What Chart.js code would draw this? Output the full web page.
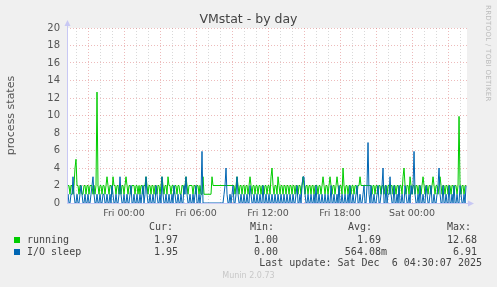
<!DOCTYPE html>
<html lang="en">
<head>
  <meta charset="UTF-8">
  <title>VMstat - by day</title>
  <script src="https://cdn.jsdelivr.net/npm/chart.js"></script>
  <style>
    body {
      margin: 0;
      background-color: #f0f0f0;
      font-family: "DejaVu Sans", sans-serif;
    }
    #wrap {
      position: relative;
      width: 497px;
      height: 287px;
      overflow: hidden;
    }
    #vmChart {
      position: absolute;
      left: 0;
      top: 0;
    }
    .txt {
      position: absolute;
      white-space: pre;
      color: #444;
      font-family: "DejaVu Sans Mono", monospace;
      font-size: 10px;
      line-height: 12px;
    }
    .num { text-align: right; }
    .swatch {
      position: absolute;
      width: 6px;
      height: 6px;
    }
    #title {
      position: absolute;
      left: 0;
      top: 11px;
      width: 497px;
      text-align: center;
      font-size: 12.5px;
      color: #444;
    }
    #rrd {
      position: absolute;
      left: 484px;
      top: 5px;
      writing-mode: vertical-rl;
      font-size: 7px;
      color: #bbb;
      letter-spacing: 0.3px;
    }
    #munin {
      position: absolute;
      left: 0;
      width: 497px;
      text-align: center;
      top: 271px;
      font-size: 8px;
      color: #c8c8c8;
    }
  </style>
</head>
<body>
  <div id="wrap">
    <canvas id="vmChart" width="497" height="287"></canvas>
    <div id="title">VMstat - by day</div>
    <div id="rrd">RRDTOOL / TOBI OETIKER</div>
    <div id="legend"></div>
    <div class="txt" style="right:15px; top:257px;">Last update: Sat Dec  6 04:30:07 2025</div>
    <div id="munin">Munin 2.0.73</div>
  </div>

  <script>
    // time axis: hours relative to Fri 00:00, one sample every 5 minutes
    const startHour = -4.75;
    const endHour = 28.58;
    const stepHours = 1 / 12;
    const labelHours = [0, 6, 12, 18, 24];
    const dayLabels = ["Fri 00:00", "Fri 06:00", "Fri 12:00", "Fri 18:00", "Sat 00:00"];

    const seriesNames = ["running", "I/O sleep"];
    const seriesColors = ["#00cc00", "#0066b3"];

    const running = [
      1, 2, 2, 1, 2, 2, 1, 2, 4, 5, 2, 2, 1, 2, 2, 1, 1, 2, 2, 1,
      2, 2, 1, 2, 2, 2, 1, 2, 1, 2, 12.68, 2, 1, 2, 2, 1, 2, 2, 1, 2,
      3, 2, 1, 2, 2, 1, 3, 2, 2, 1, 2, 2, 1, 2, 1, 2, 2, 1, 2, 3,
      2, 1, 2, 2, 1, 2, 2, 2, 1, 2, 2, 1, 2, 1, 2, 2, 1, 2, 2, 3,
      2, 1, 2, 2, 1, 2, 2, 1, 2, 2, 1, 2, 2, 1, 2, 3, 2, 1, 2, 2,
      1, 3, 2, 2, 1, 2, 2, 1, 2, 2, 1, 2, 2, 1, 1, 2, 2, 1, 2, 3,
      2, 1, 2, 2, 2, 2, 1, 2, 2, 1, 2, 2, 1, 2, 1, 1, 3, 1, 1, 1,
      1, 1, 1, 1, 1, 3, 2, 2, 2, 2, 2, 2, 2, 2, 2, 2, 2, 2, 2, 2,
      2, 2, 2, 2, 2, 2, 2, 2, 1, 2, 3, 2, 1, 2, 2, 1, 2, 2, 1, 2,
      2, 1, 2, 3, 2, 1, 2, 2, 1, 2, 2, 1, 2, 2, 1, 2, 2, 1, 2, 2,
      1, 2, 2, 1, 3, 4, 2, 1, 2, 2, 1, 3, 2, 1, 2, 2, 1, 2, 2, 1,
      2, 2, 1, 2, 2, 1, 2, 2, 1, 2, 2, 1, 2, 2, 1, 2, 3, 2, 1, 2,
      2, 1, 2, 2, 1, 2, 2, 1, 2, 2, 2, 1, 2, 2, 1, 2, 3, 2, 1, 2,
      2, 1, 2, 3, 2, 1, 2, 2, 1, 2, 3, 2, 1, 2, 2, 1, 4, 2, 1, 2,
      2, 1, 2, 2, 1, 2, 2, 1, 2, 2, 1, 2, 2, 3, 2, 2, 2, 2, 2, 2,
      2, 2, 2, 2, 2, 1, 2, 2, 1, 2, 2, 1, 2, 2, 1, 2, 2, 1, 2, 2,
      1, 2, 2, 1, 2, 2, 1, 2, 2, 1, 2, 2, 1, 2, 2, 1, 3, 4, 2, 1,
      2, 2, 1, 3, 2, 1, 2, 2, 1, 2, 2, 1, 2, 2, 1, 2, 3, 2, 1, 2,
      2, 1, 2, 2, 1, 2, 3, 2, 1, 2, 2, 1, 2, 3, 2, 1, 2, 2, 1, 2,
      2, 1, 2, 2, 1, 2, 2, 1, 2, 2, 1, 2, 9.9, 2, 1, 2, 2, 1, 2, 1.97
    ];

    const ioSleep = [
      0, 1, 0, 0, 1, 1, 3, 1, 0, 0, 1, 0, 0, 1, 2, 1, 0, 0, 1, 0,
      0, 1, 0, 0, 1, 2, 3, 1, 0, 0, 1, 0, 0, 1, 0, 0, 1, 1, 0, 0,
      1, 0, 0, 1, 0, 2, 1, 0, 0, 1, 0, 0, 1, 3, 1, 0, 0, 1, 0, 0,
      1, 0, 0, 1, 2, 0, 0, 1, 0, 0, 1, 0, 0, 1, 0, 1, 2, 0, 1, 3,
      1, 0, 0, 1, 0, 0, 1, 0, 0, 2, 1, 0, 0, 1, 0, 3, 1, 0, 0, 1,
      0, 0, 1, 0, 0, 1, 0, 2, 1, 0, 0, 1, 0, 0, 1, 0, 0, 2, 1, 3,
      1, 0, 0, 1, 0, 0, 1, 0, 1, 2, 0, 0, 1, 0, 1, 5.9, 0, 0, 0, 0,
      0, 0, 0, 0, 0, 0, 0, 0, 0, 0, 0, 0, 0, 0, 0, 0, 0, 1, 2, 4,
      1, 0, 0, 1, 0, 1, 2, 0, 0, 1, 3, 1, 0, 0, 1, 0, 0, 1, 0, 0,
      1, 0, 0, 2, 1, 0, 0, 1, 0, 0, 1, 0, 0, 1, 0, 0, 2, 0, 0, 1,
      0, 0, 1, 0, 0, 1, 0, 0, 1, 0, 0, 1, 0, 0, 1, 0, 0, 1, 0, 0,
      1, 0, 0, 1, 0, 0, 1, 0, 0, 1, 2, 0, 0, 1, 0, 2, 3, 3, 1, 0,
      0, 1, 0, 0, 1, 0, 0, 1, 0, 2, 0, 0, 1, 0, 0, 1, 0, 0, 1, 0,
      0, 1, 0, 0, 2, 0, 0, 1, 0, 0, 1, 0, 2, 0, 0, 1, 0, 0, 1, 0,
      0, 1, 0, 2, 0, 0, 1, 0, 0, 1, 2, 0, 0, 1, 0, 0, 1, 2, 0, 0,
      2, 6.91, 1, 0, 2, 0, 0, 1, 0, 0, 1, 2, 0, 0, 1, 2, 4, 0, 0, 2,
      0, 1, 1, 3, 1, 0, 0, 2, 0, 0, 1, 0, 2, 0, 0, 1, 0, 0, 2, 1,
      0, 0, 1, 0, 2, 1, 2, 5.9, 1, 0, 0, 1, 0, 2, 0, 0, 1, 0, 0, 2,
      1, 0, 0, 1, 2, 0, 0, 1, 0, 0, 1, 2, 4, 1, 0, 0, 2, 0, 0, 1,
      0, 0, 2, 0, 0, 1, 0, 2, 0, 0, 1, 0, 0, 2, 1, 0, 0, 1, 0, 1.95
    ];

    const statHeads = ["Cur:", "Min:", "Avg:", "Max:"];
    const runningStats = ["1.97", "1.00", "1.69 ", "12.68"];
    const ioSleepStats = ["1.95", "0.00", "564.08m", "6.91"];

    // legend table (munin style)
    const legend = document.getElementById("legend");
    const headLeft = [149, 250, 348, 447];
    const colRight = [178, 278, 387, 477];
    let html = "";
    statHeads.forEach((h, i) => {
      html += `<div class="txt" style="left:${headLeft[i]}px; top:221px;">${h}</div>`;
    });
    [runningStats, ioSleepStats].forEach((stats, r) => {
      const top = 234 + r * 12;
      html += `<div class="swatch" style="left:14px; top:${top + 3}px; background:${seriesColors[r]}"></div>`;
      html += `<div class="txt" style="left:27px; top:${top}px;">${seriesNames[r]}</div>`;
      stats.forEach((v, i) => {
        html += `<div class="txt num" style="right:${497 - colRight[i]}px; top:${top}px;">${v}</div>`;
      });
    });
    legend.innerHTML = html;

    const toPoints = arr => arr.map((v, i) => ({ x: startHour + i * stepHours, y: v }));

    const hourTicks = [];
    for (let h = Math.ceil(startHour); h <= endHour; h++) hourTicks.push(h);

    const majorGrid = "rgba(220, 120, 120, 0.5)";
    const minorGrid = "rgba(170, 170, 170, 0.45)";

    const plotDeco = {
      id: "plotDeco",
      beforeDraw(chart) {
        const a = chart.chartArea;
        const ctx = chart.ctx;
        ctx.save();
        ctx.fillStyle = "#ffffff";
        ctx.fillRect(a.left, a.top, a.right - a.left, a.bottom - a.top);
        ctx.restore();
      },
      afterDraw(chart) {
        const a = chart.chartArea;
        const ctx = chart.ctx;
        ctx.save();
        ctx.strokeStyle = "#c8c8f4";
        ctx.fillStyle = "#c8c8f4";
        ctx.lineWidth = 1;
        ctx.beginPath();
        ctx.moveTo(a.left + 0.5, a.bottom);
        ctx.lineTo(a.left + 0.5, a.top - 4);
        ctx.moveTo(a.left, a.bottom + 0.5);
        ctx.lineTo(a.right + 3, a.bottom + 0.5);
        ctx.stroke();
        ctx.beginPath();
        ctx.moveTo(a.left - 2.5, a.top - 2);
        ctx.lineTo(a.left + 3.5, a.top - 2);
        ctx.lineTo(a.left + 0.5, a.top - 8);
        ctx.fill();
        ctx.beginPath();
        ctx.moveTo(a.right + 1, a.bottom - 2.5);
        ctx.lineTo(a.right + 1, a.bottom + 3.5);
        ctx.lineTo(a.right + 7, a.bottom + 0.5);
        ctx.fill();
        ctx.restore();
      }
    };

    new Chart(document.getElementById("vmChart"), {
      type: "line",
      data: {
        datasets: [
          {
            label: seriesNames[0],
            data: toPoints(running),
            borderColor: seriesColors[0],
            borderWidth: 1,
            pointRadius: 0,
            order: 2
          },
          {
            label: seriesNames[1],
            data: toPoints(ioSleep),
            borderColor: seriesColors[1],
            borderWidth: 1,
            pointRadius: 0,
            order: 1
          }
        ]
      },
      options: {
        responsive: false,
        animation: false,
        layout: { padding: { top: 28, right: 30, left: 0, bottom: 64 } },
        plugins: {
          legend: { display: false },
          tooltip: { enabled: false }
        },
        scales: {
          x: {
            type: "linear",
            min: startHour,
            max: endHour,
            afterBuildTicks(scale) {
              scale.ticks = hourTicks.map(v => ({ value: v }));
            },
            afterFit(scale) { scale.height = 20; },
            grid: {
              color: c => (c.tick && c.tick.value % 3 === 0 ? majorGrid : minorGrid),
              drawTicks: false
            },
            border: { display: false, dash: [1, 2] },
            ticks: {
              autoSkip: false,
              maxRotation: 0,
              padding: 5,
              color: "#555",
              font: { family: "DejaVu Sans", size: 9.5 },
              callback: v => {
                const k = labelHours.indexOf(v);
                return k >= 0 ? dayLabels[k] : "";
              }
            }
          },
          y: {
            min: 0,
            max: 20,
            afterFit(scale) { scale.width = 67; },
            grid: {
              color: c => (c.tick && c.tick.value % 2 === 0 ? majorGrid : minorGrid),
              drawTicks: false
            },
            border: { display: false, dash: [1, 2] },
            ticks: {
              stepSize: 1,
              padding: 7,
              color: "#555",
              font: { family: "DejaVu Sans", size: 10 },
              callback: v => (v % 2 === 0 ? v : "")
            },
            title: {
              display: true,
              text: "process states",
              color: "#555",
              padding: { top: 5, bottom: 0 },
              font: { family: "DejaVu Sans", size: 11 }
            }
          }
        }
      },
      plugins: [plotDeco]
    });
  </script>
</body>
</html>
